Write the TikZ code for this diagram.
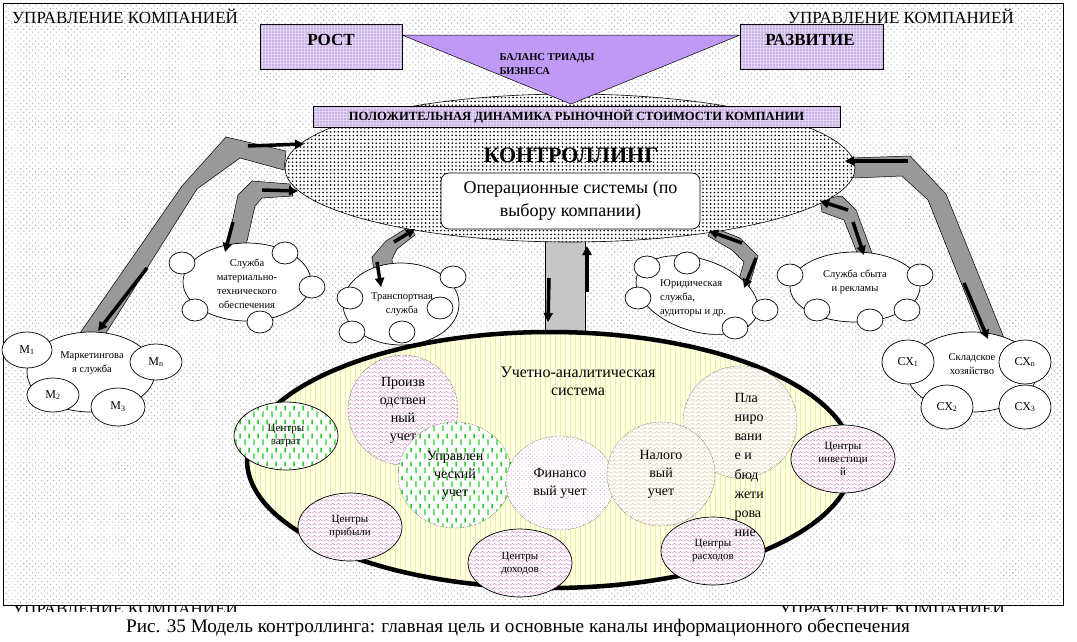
\documentclass[tikz,border=0pt]{standalone}
\usepackage{fontspec}
\setmainfont{Liberation Serif}
\usetikzlibrary{shapes.geometric,patterns,patterns.meta,arrows.meta}

\definecolor{lav}{RGB}{226,212,244}
\definecolor{lavdot}{RGB}{175,145,215}
\definecolor{tri}{RGB}{192,152,245}
\definecolor{pinkw}{RGB}{215,135,195}
\definecolor{beige}{RGB}{228,195,150}
\definecolor{grn}{RGB}{40,205,40}
\definecolor{paleyel}{RGB}{255,255,228}
\definecolor{yelline}{RGB}{238,238,160}

\tikzdeclarepattern{
  name=zigzag, type=uncolored,
  bounding box={(0pt,0pt) and (6pt,4pt)},
  tile size={(6pt,4pt)},
  code={\draw[line width=.6pt] (0pt,.8pt) -- (3pt,3.2pt) -- (6pt,.8pt);}
}
\tikzdeclarepattern{
  name=greendash, type=uncolored,
  bounding box={(0pt,0pt) and (9pt,14pt)},
  tile size={(9pt,14pt)},
  code={\fill (1.5pt,1pt) rectangle (3pt,7pt); \fill (6pt,8pt) rectangle (7.5pt,13pt);}
}

\tikzset{
  mgmt/.style={font=\fontsize{17}{20}\selectfont, inner sep=0},
  lavbox/.style={draw, line width=.8pt, pattern={Dots[distance=3pt,radius=.8pt]}, pattern color=lavdot, preaction={fill=lav}, inner sep=0},
  band/.style={draw, fill=gray!80, line width=.5pt},
  blk/.style={line width=3.5pt, -{Triangle[length=9pt,width=9pt]}},
  unit/.style={ellipse, draw, fill=white, inner sep=0, line width=.7pt},
  bub/.style={unit, minimum width=26, minimum height=22},
  sx/.style={unit, minimum width=52, minimum height=44, font=\fontsize{12}{14}\selectfont},
  small/.style={font=\fontsize{10.5}{14}\selectfont, align=center, inner sep=0},
  acct/.style={ellipse, draw, densely dotted, inner sep=0, align=center, font=\fontsize{14}{18}\selectfont, preaction={fill=white}},
  ctr/.style={ellipse, draw, inner sep=0, line width=.7pt, align=center, minimum width=104, minimum height=68, font=\fontsize{11}{13}\selectfont, preaction={fill=white}},
}

\begin{document}
\begin{tikzpicture}[x=1pt,y=-1pt]
\useasboundingbox (0,0) rectangle (1077,641);
\draw[line width=.9pt, pattern={Dots[distance=4.2pt,radius=.8pt,angle=45]}, pattern color=gray!55] (3,3) rectangle (1063,605);

% management labels
\node[mgmt, anchor=west] (mgmt1) at (12,16) {УПРАВЛЕНИЕ КОМПАНИЕЙ};
\node[mgmt, anchor=east] (mgmt2) at (1014,16) {УПРАВЛЕНИЕ КОМПАНИЕЙ};
\begin{scope}
  \clip (0,606) rectangle (1077,611);
  \node[mgmt, anchor=base west] (mgmt3) at (12,614) {УПРАВЛЕНИЕ КОМПАНИЕЙ};
  \node[mgmt, anchor=base east] (mgmt4) at (1005,614) {УПРАВЛЕНИЕ КОМПАНИЕЙ};
\end{scope}

% grey channels
\draw[band] (80,333) -- (182,186) -- (226,137) -- (286,151) -- (284,170) -- (240,158) -- (197,189) -- (106,333) -- cycle;
\draw[band] (226,250) -- (238,195) -- (252,181) -- (290,184) -- (293,196) -- (262,198) -- (255,206) -- (245,250) -- cycle;
\draw[band] (376,285) -- (372,257) -- (386,241) -- (410,226) -- (415,235) -- (397,249) -- (392,259) -- (394,282) -- cycle;
\draw[band] (708,236) -- (712,227) -- (740,238) -- (758,256) -- (748,290) -- (736,290) -- (744,262) -- (732,250) -- cycle;
\draw[band] (822,212) -- (820,199) -- (842,196) -- (856,210) -- (872,253) -- (858,255) -- (844,220) -- cycle;
\draw[band] (853,178) -- (850,158) -- (910,156) -- (946,194) -- (1004,338) -- (984,340) -- (928,200) -- (902,176) -- cycle;
\draw[band, fill=gray!45] (545,236) rectangle (585,336);

% controlling
\node[ellipse, draw, line width=.6pt, minimum width=570, minimum height=148, pattern={Dots[distance=3.8pt,radius=.9pt]}, preaction={fill=white}] (ctl) at (570,168) {};
\draw[fill=tri, line width=.5pt] (402,35) -- (740,35) -- (571,104) -- cycle;
\node[lavbox, minimum width=142, minimum height=45] (grow) at (331,46.5) {};
\node[font=\bfseries\fontsize{17}{19}\selectfont] (growtxt) at (331,40) {РОСТ};
\node[lavbox, minimum width=143, minimum height=45] (dev) at (811.5,46.5) {};
\node[font=\bfseries\fontsize{17}{19}\selectfont] (devtxt) at (810,40) {РАЗВИТИЕ};
\node[font=\bfseries\fontsize{10.5}{14}\selectfont, align=left, anchor=west] (triad) at (496,64) {БАЛАНС ТРИАДЫ\\БИЗНЕСА};
\node[lavbox, minimum width=527, minimum height=21, font=\bfseries\fontsize{12.6}{14}\selectfont] (goal) at (576.5,116.5) {ПОЛОЖИТЕЛЬНАЯ ДИНАМИКА РЫНОЧНОЙ СТОИМОСТИ КОМПАНИИ};
\node[font=\bfseries\fontsize{22}{26}\selectfont] (ctltxt) at (571,155) {КОНТРОЛЛИНГ};
\node[draw, rounded corners=8pt, fill=white, line width=.7pt, minimum width=259, minimum height=56, align=center, font=\fontsize{18}{23}\selectfont] (ops) at (570.5,201) {Операционные системы (по\\выбору компании)};

% services
\node[unit, minimum width=128, minimum height=80] (mkt) at (91,372) {};
\node[unit, minimum width=50, minimum height=36, font=\fontsize{12}{14}\selectfont] (m1) at (27,350) {М\textsubscript{1}};
\node[unit, minimum width=52, minimum height=36, font=\fontsize{12}{14}\selectfont] (mn) at (156,362) {М\textsubscript{n}};
\node[unit, minimum width=52, minimum height=34, font=\fontsize{12}{14}\selectfont] (m2) at (53,395) {М\textsubscript{2}};
\node[unit, minimum width=54, minimum height=38, font=\fontsize{12}{14}\selectfont] (m3) at (118,407) {М\textsubscript{3}};
\node[small] (mkttxt) at (92,363) {Маркетингова\\я служба};

\node[unit, minimum width=128, minimum height=78] (mto) at (247,282) {};
\foreach \x/\y [count=\i] in {182/263,285/253,312/287,195/310,260/322}
  \node[bub] (mto\i) at (\x,\y) {};
\node[small] (mtotxt) at (247,284) {Служба\\материально-\\технического\\обеспечения};

\node[unit, minimum width=116, minimum height=82] (trn) at (401,304) {};
\foreach \x/\y [count=\i] in {350/298,453/277,440/308,352/332,402/332}
  \node[bub] (trn\i) at (\x,\y) {};
\node[small] (trntxt) at (402,304) {Транспортная\\служба};

\node[unit, rotate=-18, minimum width=126, minimum height=72] (law) at (697,295) {};
\foreach \x/\y [count=\i] in {647/267,687/263,638/298,765/310,735/328}
  \node[bub] (law\i) at (\x,\y) {};
\node[small, align=left, anchor=west] (lawtxt) at (660,298) {Юридическая\\служба,\\аудиторы и др.};

\node[unit, minimum width=130, minimum height=70] (sales) at (855,287) {};
\foreach \x/\y [count=\i] in {790/275,920/275,817/310,870/320,907/310}
  \node[bub] (sales\i) at (\x,\y) {};
\node[small] (salestxt) at (855,282) {Служба сбыта\\и рекламы};

\node[unit, minimum width=130, minimum height=80] (stock) at (972,372) {};
\node[sx] (sx1) at (908,362) {СХ\textsubscript{1}};
\node[sx] (sxn) at (1025,362) {СХ\textsubscript{n}};
\node[sx] (sx2) at (947,407) {СХ\textsubscript{2}};
\node[sx] (sx3) at (1025,407) {СХ\textsubscript{3}};
\node[small] (stocktxt) at (972,364) {Складское\\хозяйство};

% black arrows
\draw[blk] (248,146) -- (304,144);
\draw[blk] (147,268) -- (98,331);
\draw[blk] (262,190) -- (298,191);
\draw[blk] (233,222) -- (225,252);
\draw[blk] (394,242) -- (415,229);
\draw[blk] (377,262) -- (381,287);
\draw[blk] (742,243) -- (709,231);
\draw[blk] (756,258) -- (744,288);
\draw[blk] (848,210) -- (820,201);
\draw[blk] (853,222) -- (864,255);
\draw[blk] (908,161) -- (845,161);
\draw[blk] (964,283) -- (988,339);
\draw[blk] (549,278) -- (548,322);
\draw[blk] (587,292) -- (587,246);

% accounting system
\node[ellipse, draw, line width=4.5pt, minimum width=606, minimum height=256, pattern={Lines[angle=90,distance=5pt,line width=.9pt]}, pattern color=yelline, preaction={fill=paleyel}] (acc) at (550,460) {};
\node[font=\fontsize{16}{18}\selectfont, align=center] (acctxt) at (578,381) {Учетно-аналитическая\\система};
\node[acct, minimum width=110, minimum height=110, pattern=zigzag, pattern color=pinkw] (prod) at (403,410) {Произв\\одствен\\ный\\учет};
\node[acct, minimum width=114, minimum height=106, pattern=greendash, pattern color=grn] (mgt) at (455,475) {Управлен\\ческий\\учет};
\node[acct, minimum width=108, minimum height=94, pattern={Dots[distance=3pt,radius=.6pt,angle=45]}, pattern color=pinkw!70] (fin) at (560,483) {Финансо\\вый учет};
\node[acct, minimum width=114, minimum height=112, pattern=zigzag, pattern color=beige] (plan) at (740,422) {};
\node[acct, minimum width=108, minimum height=104, pattern=zigzag, pattern color=beige] (tax) at (661,474) {Налого\\вый\\учет};

\node[ctr, pattern=greendash, pattern color=grn] (cost) at (286,436) {Центры\\затрат};
\node[ctr, pattern=zigzag, pattern color=pinkw] (profit) at (350,527) {Центры\\прибыли};
\node[ctr, pattern=zigzag, pattern color=pinkw] (income) at (520,563) {Центры\\доходов};
\node[ctr, pattern=zigzag, pattern color=pinkw] (expense) at (713,551) {Центры\\расходов};
\node[ctr, pattern=zigzag, pattern color=pinkw] (invest) at (843,459) {Центры\\инвестици\\й};
\node[font=\fontsize{14}{19.2}\selectfont, align=left, anchor=west] (plantxt) at (731,465) {Пла\\ниро\\вани\\е и\\бюд\\жети\\рова\\ние};

\node[font=\fontsize{19.2}{22}\selectfont] (caption) at (518,628) {Рис. 35 Модель контроллинга: главная цель и основные каналы информационного обеспечения};
\end{tikzpicture}
\end{document}
